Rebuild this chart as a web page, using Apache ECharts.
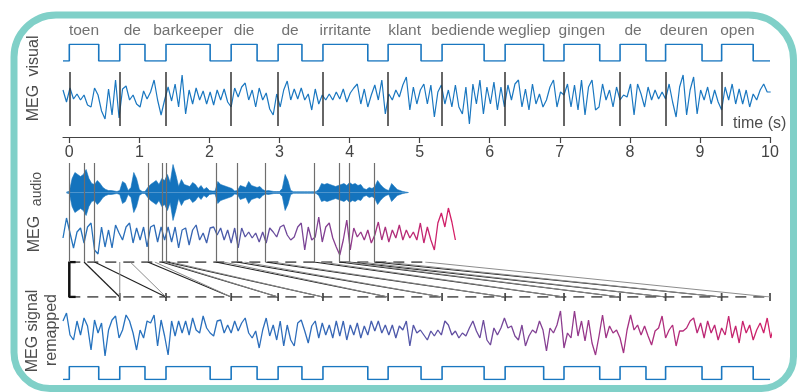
<!DOCTYPE html>
<html>
<head>
<meta charset="utf-8">
<script src="https://cdn.jsdelivr.net/npm/echarts@6.0.0/dist/echarts.min.js"></script>
<style>
  html, body { margin: 0; padding: 0; background: #fff; }
  #chart { width: 801px; height: 392px; }
</style>
</head>
<body>
<div id="chart"></div>
<script>
// time axis (s)
const tStart = -0.09
const tEnd = 10
const tickValues = [0, 1, 2, 3, 4, 5, 6, 7, 8, 9, 10]

// words and their visual presentation (on / off, s)
const words = ['toen', 'de', 'barkeeper', 'die', 'de', 'irritante', 'klant', 'bediende', 'wegliep', 'gingen', 'de', 'deuren', 'open']
const visualOnsets = [0, 0.72, 1.38, 2.31, 2.98, 3.62, 4.55, 5.32, 6.22, 7.06, 7.86, 8.51, 9.31]
const visualOffsets = [0.42, 1.08, 2.01, 2.68, 3.32, 4.26, 5.02, 5.92, 6.77, 7.57, 8.23, 9.03, 9.76]

// word onsets in the spoken version and the ends that are stretched (s)
const audioOnsets = [0, 0.21, 0.36, 1.12, 1.32, 1.39, 2.09, 2.39, 2.80, 3.49, 3.85, 4.00, 4.35]
const audioEnds = [0.72, 0.87, 1.22, 1.36, 1.45, 2.2, 2.5, 2.9, 3.6, 3.95, 4.15, 4.5, 5.08]
const audioDuration = 5.08

// audio envelope, sampled every 0.04 s from -0.04 s
const audioStep = 0.04
const audioStart = -0.04
const audioEnv = [0.5, 1, 14, 20, 18, 16, 18, 23, 14, 9, 8, 12, 9, 5, 3, 2, 2, 1.5, 1, 2,
  11, 9, 2, 5, 20, 14, 3, 1, 1, 5, 8, 10, 12, 8, 14, 12, 18, 10, 28, 18,
  6, 13, 8, 7, 6, 10, 8, 4, 7, 3, 5, 2, 1.5, 1.5, 11, 8, 7, 6, 5, 4,
  1.5, 2, 7, 6, 5, 11, 7, 6, 5, 6, 3, 1.5, 2, 1.5, 1, 1, 1, 4, 18, 12,
  2, 0.8, 0.8, 0.8, 0.8, 0.8, 0.8, 0.8, 0.8, 0.8, 3, 9, 8, 9, 8, 7, 6, 7, 8, 9,
  7, 10, 8, 9, 7, 8, 4, 3, 5, 4, 6, 12, 8, 5, 3, 2, 9, 6, 3, 2, 1, 0.5, 0]

// MEG traces, sampled every 0.05 s from tStart
const megStep = 0.05
const megVisual = [7, -5, 9, -2, 3, -3, 2, -8, -10, 9, 2, -14, -22, 8, -18, 17, -21, 8, 11, -3,
  2, -7, -10, 6, -2, 5, 17, -3, -18, -3, 10, -4, 13, -10, 22, -17, 7, -7, 9, -3,
  6, -7, 5, -8, 7, -3, 8, -5, -10, 9, 0, 10, 14, -3, 7, -10, 9, -3, 4, -12,
  -18, 3, -10, 7, 16, -3, 8, -2, 9, -3, 3, -13, 8, -7, 2, -3, 3, -3, 5, -2,
  8, -5, 4, 9, 13, -7, 8, -10, 2, 12, -3, 17, -17, 3, -3, 7, 0, 12, 20, -13,
  10, -7, 7, 13, -7, 12, -20, 5, 12, -7, 7, -10, 12, -10, -17, 10, -27, 13, -7, 17,
  -17, 10, -7, 15, -13, 10, -10, 12, -3, 13, 17, -10, 8, -13, 13, -7, 3, -10, -3, 10,
  17, -10, 5, 2, 13, -10, 12, -13, 17, -18, 10, 17, -13, -10, 13, -3, 7, -10, 10, -3,
  2, 0, 13, -18, 13, 3, -10, 10, -3, 7, -2, 5, -2, 13, -5, -20, 10, 22, -18, 7,
  20, -17, 7, -3, 10, -7, 7, -5, -13, 10, -3, 13, -7, 8, -7, 7, -10, 3, -3, 7,
  13, 5, 5]
const megAudio = [-6, 14, -1, -16, 0, 4, -11, 5, 9, -18, -22, 5, -15, 2, -16, 7, -1, -8, 5, 9,
  -11, 4, -8, 5, -15, 5, 7, -10, 5, -8, 5, -10, 5, -16, 2, 4, -13, 2, 7, -8,
  -1, -11, 4, 5, -3, 4, -8, 2, -11, 4, -16, 4, -5, 0, -6, -1, -10, 0, -11, 4,
  0, -5, 5, 7, -3, -8, -5, 5, 9, -18, 5, -8, -5, 15, -10, 5, 9, -6, -15, -23,
  -8, 12, -18, 4, -5, 0, -8, 2, -11, -3, 10, -8, 5, -10, 2, -6, 7, -8, 2, -6,
  0, -8, 9, -11, 5, -8, -18, 9, 19, 5, 24, 10, -8]
const megRemapped = [12, 20, -2, -7, 12, -2, 15, 7, -17, 13, 0, 10, -23, 3, 13, 17, -5, 3, 18, 12,
  0, -17, 3, -5, 12, 10, 18, -13, 13, -3, -22, 12, -3, 12, 0, 12, -2, 15, 3, 0,
  17, 5, 0, -3, 12, 13, 0, 8, 0, 12, 2, 10, 15, 0, -5, 2, -15, 3, 15, -3,
  8, -7, 12, -13, 8, -7, -13, 10, 13, 2, -10, 7, 12, -5, 10, -2, 8, -5, 12, -3,
  12, -7, 8, -2, 10, -5, 7, -2, 12, 2, 12, 0, 8, -2, 8, -5, 7, 3, 12, -13,
  8, 0, 3, -2, -7, 2, -3, 3, -2, 12, 8, -2, 2, -5, 0, -3, 5, 12, 2, -5,
  13, -7, -12, 5, -2, 5, 15, 5, 7, -3, -7, 8, -13, -3, 3, 0, 12, 3, -18, 5,
  0, 8, 22, -15, 0, -5, 22, -3, 12, -8, 13, -10, -22, -3, 18, -5, 7, 0, 3, -5,
  -20, 3, 18, 3, 8, -2, 7, -3, -12, 2, 5, 17, -5, 3, 8, -13, 2, 2, 5, 12,
  15, 0, 10, -5, 12, 0, 8, -7, 5, -2, 17, -5, 7, -10, 12, 0, 8, -7, 3, 10,
  0, 15, -5, 7]

const FONT = '"Liberation Sans", Arial, sans-serif'
const TEXT = '#4d4d4d'
const BLUE = '#1a77c0'

const toPoints = (vals, t0, dt) => vals.map((v, i) => [t0 + i * dt, v])

// square wave: low, up at onset, down at offset
const stimWave = () => {
    const pts = [[tStart, 0]]
    visualOnsets.forEach((on, i) => {
        pts.push([on, 0], [on, 1], [visualOffsets[i], 1], [visualOffsets[i], 0])
    })
    pts.push([tEnd, 0])
    return pts
}

const grids = [
    { top: 44.3, height: 16.7 },   // visual stimulus
    { top: 72, height: 54 },       // MEG visual
    { top: 163, height: 99 },      // audio + MEG audio
    { top: 262, height: 35 },      // remapping
    { top: 305, height: 55 },      // MEG remapped
    { top: 366.5, height: 13 }     // stimulus again
].map(g => ({ ...g, left: 63, right: 31 }))

const xAxes = grids.map((g, i) => ({
    type: 'value',
    gridIndex: i,
    min: tStart,
    max: tEnd,
    show: i === 1,
    position: 'bottom',
    offset: 11,
    splitLine: { show: false },
    axisLine: { show: true, onZero: false, lineStyle: { color: '#444', width: 1.2 } },
    axisTick: { show: true, customValues: tickValues, length: 6, lineStyle: { color: '#444', width: 1.2 } },
    axisLabel: { show: true, customValues: tickValues, color: '#444', fontSize: 16, fontFamily: FONT, margin: 8 }
}))

const yAxes = [
    { gridIndex: 0, min: 0, max: 1 },
    { gridIndex: 1, min: -29, max: 25 },
    { gridIndex: 2, min: -69.5, max: 29.5 },
    { gridIndex: 2, min: -30, max: 69 },
    { gridIndex: 3, min: 0, max: 1 },
    { gridIndex: 4, min: -27, max: 28 },
    { gridIndex: 5, min: 0, max: 1 }
].map(a => ({ ...a, type: 'value', show: false }))

const lineBase = {
    type: 'line',
    symbol: 'none',
    silent: true,
    animation: false,
    emphasis: { disabled: true }
}

const vLines = (vals, color, width) => ({
    symbol: ['none', 'none'],
    silent: true,
    animation: false,
    label: { show: false },
    lineStyle: { color, width, type: 'solid' },
    data: vals.map(v => ({ xAxis: v }))
})

const gradient = stops => new echarts.graphic.LinearGradient(0, 0, 1, 0,
    stops.map(([offset, color]) => ({ offset, color })))

const bottomMarks = visualOnsets.slice(1).concat([tEnd])

const links = []
audioOnsets.forEach((a, i) => {
    if (i === 0) return
    links.push({
        ...lineBase, xAxisIndex: 3, yAxisIndex: 4,
        data: [[a, 1], [visualOnsets[i], 0]],
        lineStyle: { color: '#222', width: 1.2 }
    })
})
audioEnds.forEach((a, i) => {
    links.push({
        ...lineBase, xAxisIndex: 3, yAxisIndex: 4,
        data: [[a, 1], [bottomMarks[i], 0]],
        lineStyle: { color: '#8c8c8c', width: 1 }
    })
})

const series = [
    {
        ...lineBase, xAxisIndex: 0, yAxisIndex: 0,
        data: stimWave(),
        lineStyle: { color: BLUE, width: 1.6 }
    },
    {
        type: 'scatter', xAxisIndex: 0, yAxisIndex: 0,
        symbolSize: 0, silent: true, animation: false,
        data: words.map((w, i) => ({ name: w, value: [(visualOnsets[i] + visualOffsets[i]) / 2, 1] })),
        label: { show: true, position: 'top', distance: 6, formatter: '{b}', color: TEXT, fontSize: 15.5, fontFamily: FONT }
    },
    {
        ...lineBase, xAxisIndex: 1, yAxisIndex: 1,
        data: toPoints(megVisual, tStart, megStep),
        lineStyle: { color: BLUE, width: 1.2 },
        markLine: vLines(visualOnsets, '#333', 1.5)
    },
    {
        ...lineBase, xAxisIndex: 2, yAxisIndex: 2,
        data: toPoints(audioEnv, audioStart, audioStep),
        lineStyle: { color: '#1473bd', width: 0.6 },
        areaStyle: { color: '#1473bd', opacity: 1 },
        markLine: vLines(audioOnsets, '#6e6e6e', 1.2)
    },
    {
        ...lineBase, xAxisIndex: 2, yAxisIndex: 2,
        data: toPoints(audioEnv.map(v => -v), audioStart, audioStep),
        lineStyle: { color: '#1473bd', width: 0.6 },
        areaStyle: { color: '#1473bd', opacity: 1 }
    },
    {
        ...lineBase, xAxisIndex: 2, yAxisIndex: 3,
        data: toPoints(megAudio, tStart, megStep),
        lineStyle: {
            width: 1.3,
            color: gradient([[0, '#2375be'], [0.3, '#3068b5'], [0.45, '#5457a6'], [0.6, '#784697'],
                [0.72, '#8c3c8e'], [0.85, '#b42c78'], [1, '#d81c64']])
        }
    },
    {
        ...lineBase, xAxisIndex: 3, yAxisIndex: 4,
        data: [[0, 1], [audioDuration, 1]],
        lineStyle: { color: '#333', width: 1.6, type: [11, 7] }
    },
    {
        ...lineBase, xAxisIndex: 3, yAxisIndex: 4,
        data: [[0, 0], [tEnd, 0]],
        lineStyle: { color: '#333', width: 1.6, type: [11, 7] }
    },
    {
        ...lineBase, xAxisIndex: 3, yAxisIndex: 4,
        data: [[0.09, 1], [0, 1], [0, 0], [0.09, 0]],
        lineStyle: { color: '#111', width: 2.5 }
    },
    ...links,
    {
        type: 'scatter', xAxisIndex: 3, yAxisIndex: 4,
        silent: true, animation: false,
        symbol: 'rect', symbolSize: [1.8, 8],
        itemStyle: { color: '#222' },
        data: bottomMarks.map(t => [t, 0])
    },
    {
        ...lineBase, xAxisIndex: 4, yAxisIndex: 5,
        data: toPoints(megRemapped, tStart, megStep),
        lineStyle: {
            width: 1.3,
            color: gradient([[0, '#2373bf'], [0.35, '#2f6cba'], [0.5, '#5553a6'], [0.65, '#7e4496'],
                [0.75, '#9b3588'], [0.88, '#b82a78'], [1, '#d21f66']])
        }
    },
    {
        ...lineBase, xAxisIndex: 5, yAxisIndex: 6,
        data: stimWave(),
        lineStyle: { color: BLUE, width: 1.6 }
    }
]

const sideLabel = (text, x, y, size) => ({
    type: 'text',
    x, y,
    rotation: Math.PI / 2,
    silent: true,
    style: { text, fill: TEXT, font: `${size}px ${FONT}`, align: 'center', verticalAlign: 'middle' }
})

const option = {
    animation: false,
    backgroundColor: '#fff',
    textStyle: { fontFamily: FONT },
    grid: grids,
    xAxis: xAxes,
    yAxis: yAxes,
    series,
    graphic: [
        {
            type: 'rect',
            z: -10,
            silent: true,
            shape: { x: 14, y: 15, width: 779.5, height: 373.5, r: [42, 45, 32, 36] },
            style: { fill: '#fff', stroke: '#80d0c8', lineWidth: 7 }
        },
        sideLabel('visual', 34, 56, 16),
        sideLabel('MEG', 34, 103, 16),
        sideLabel('audio', 37, 189, 14),
        sideLabel('MEG', 35, 234, 16),
        sideLabel('MEG signal', 33, 331, 16),
        sideLabel('remapped', 52, 330, 16),
        {
            type: 'text',
            x: 733, y: 124,
            silent: true,
            style: { text: 'time (s)', fill: TEXT, font: `16px ${FONT}`, align: 'left', verticalAlign: 'middle' }
        }
    ]
}

const mChart = echarts.init(document.getElementById('chart'))
mChart.setOption(option)
</script>
</body>
</html>
